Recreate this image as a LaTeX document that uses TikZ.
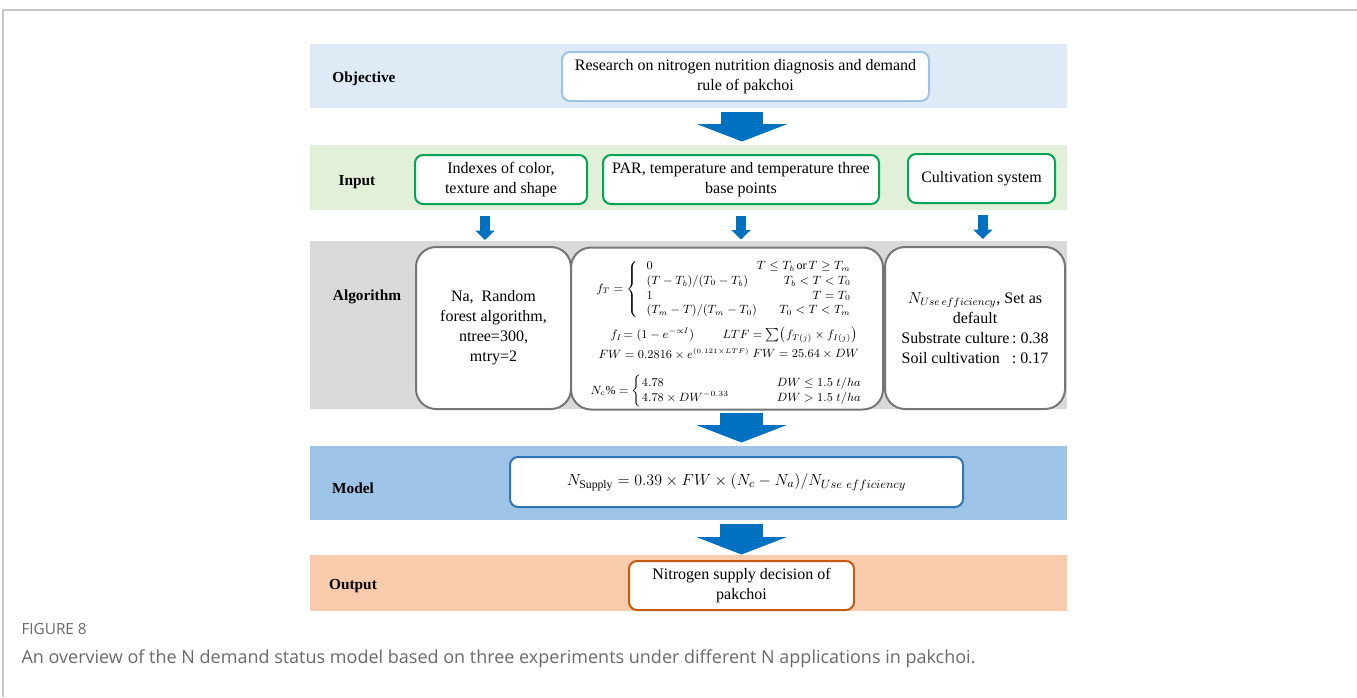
\documentclass[tikz,border=0pt]{standalone}
\usepackage{fontspec}
\setmainfont{Liberation Serif}
\newfontfamily\capfont{Open Sans}
\usetikzlibrary{arrows.meta}

\definecolor{objfill}{RGB}{222,235,247}
\definecolor{objedge}{RGB}{157,195,230}
\definecolor{infill}{RGB}{226,240,217}
\definecolor{inedge}{RGB}{0,166,81}
\definecolor{algfill}{RGB}{217,217,217}
\definecolor{algedge}{RGB}{118,118,118}
\definecolor{modfill}{RGB}{157,195,230}
\definecolor{modedge}{RGB}{46,117,182}
\definecolor{outfill}{RGB}{248,203,173}
\definecolor{outedge}{RGB}{197,90,17}
\definecolor{arrowblue}{RGB}{0,112,192}
\definecolor{framegray}{RGB}{200,200,200}
\definecolor{capgray}{RGB}{105,105,105}

\tikzset{every picture/.style={line width=0.75pt},
  band/.style={draw=none,inner sep=0pt,minimum width=567.75pt},
  rbox/.style={draw,fill=white,line width=1.5pt,rounded corners=6pt,inner sep=0pt,align=center,font=\fontsize{12}{15}\selectfont},
  algbox/.style={rbox,draw=algedge,rounded corners=15pt,minimum height=121.5pt},
  rowlabel/.style={font=\bfseries\fontsize{11.5}{13}\selectfont},
  fml/.style={inner sep=0pt,anchor=west,font=\fontsize{9}{11}\selectfont},
  bigarrow/.style={draw=arrowblue,line width=32pt,-{Triangle[length=13pt,width=67pt]}},
  smallarrow/.style={draw=arrowblue,line width=7.5pt,-{Triangle[length=7pt,width=14pt]}}
}

\begin{document}
\begin{tikzpicture}[x=0.75pt,y=0.75pt,yscale=-1,xscale=1]
	\useasboundingbox (0,0) rectangle (1357,697);

	%Straight Lines 
	\draw [color=framegray,line width=1pt]  (3,697) -- (3,10) -- (1357,10) ;

	%Shape: Rectangle 
	\node [band,fill=objfill,minimum height=48pt] (objband) at (688.5,76) {};
	\node [band,fill=infill,minimum height=48.75pt] (inband) at (688.5,177.5) {};
	\node [band,fill=algfill,minimum height=126pt] (algband) at (688.5,325) {};
	\node [band,fill=modfill,minimum height=55.5pt] (modband) at (688.5,483) {};
	\node [band,fill=outfill,minimum height=42pt] (outband) at (688.5,583) {};

	% Text Node
	\node [rowlabel] (objlab) at (364,79) {Objective};
	\node [rowlabel] (inlab) at (357,182) {Input};
	\node [rowlabel] (alglab) at (367,297) {Algorithm};
	\node [rowlabel] (modlab) at (353,488) {Model};
	\node [rowlabel] (outlab) at (353,586) {Output};

	%Shape: Rounded Rect 
	\node [rbox,draw=objedge,minimum width=275.25pt,minimum height=36.75pt] (objbox) at (745.5,76.5) {Research on nitrogen nutrition diagnosis and demand\\rule of pakchoi};
	\node [rbox,draw=inedge,minimum width=129pt,minimum height=36.75pt] (inbox1) at (501,179.5) {Indexes of color,\\texture and shape};
	\node [rbox,draw=inedge,minimum width=207pt,minimum height=36.75pt] (inbox2) at (741,179.5) {PAR, temperature and temperature three\\base points};
	\node [rbox,draw=inedge,minimum width=110.25pt,minimum height=36.75pt] (inbox3) at (981.5,178.5) {Cultivation system};

	\node [algbox,minimum width=116.25pt] (algbox1) at (493.5,328) {Na,\ \ Random\\forest algorithm,\\ntree=300,\\mtry=2};
	\node [algbox,minimum width=234pt] (algbox2) at (727,328.5) {};
	\node [algbox,minimum width=135pt] (algbox3) at (975,328) {$N_{Use\,efficiency}$, Set as\\default\\Substrate culture\,:\ 0.38\\Soil cultivation\ \ \ :\ 0.17};

	\node [rbox,draw=modedge,minimum width=339.75pt,minimum height=37.5pt,font=\fontsize{12.5}{14}\selectfont] (modbox) at (736.5,482) {$N_{\mathrm{Supply}}=0.39\times FW\times(N_c-N_a)/N_{Use\ efficiency}$};
	\node [rbox,draw=outedge,minimum width=168.75pt,minimum height=36.75pt] (outbox) at (741.5,585.5) {Nitrogen supply decision of\\pakchoi};

	% Text Node
	\node [fml] (ftfun) at (596,289) {$\def\arraystretch{1.0}f_T=\left\{\begin{array}{@{\hspace{6pt}}l@{\hspace{0pt}}r@{}}0 & T\le T_b\,\mathrm{or}\,T\ge T_m\\(T-T_b)/(T_0-T_b) & T_b<T<T_0\\1 & T=T_0\\(T_m-T)/(T_m-T_0) & T_0<T<T_m\end{array}\right.$};
	\node [fml] (fifun) at (610,335) {$f_I\!=(1-e^{-\propto I})$};
	\node [fml] (ltffun) at (722,335) {$LTF=\textstyle\sum\!\big(f_{T(j)}\times f_{I(j)}\big)$};
	\node [fml] (fwfun1) at (598,354) {$FW=0.2816\times e^{\scriptscriptstyle(0.121\times LTF)}$};
	\node [fml] (fwfun2) at (752,354) {$FW=25.64\times DW$};
	\node [fml] (ncfun) at (590,391) {$N_c\%=\left\{\begin{array}{@{}l@{\hspace{36pt}}l@{}}4.78 & DW\le1.5\;t/ha\\4.78\times DW^{-0.33} & DW>1.5\;t/ha\end{array}\right.$};

	%Straight Lines 
	\draw [bigarrow,shorten <=2.25pt,shorten >=2.25pt] ([xshift=-2.6pt]objbox.south |- objband.south) -- ([xshift=-2.6pt]objbox.south |- inband.north) ;
	\draw [smallarrow,shorten <=8.25pt,shorten >=4.5pt] ([xshift=-12pt]inbox1.south) -- ([xshift=-12pt]inbox1.south |- algbox1.north) ;
	\draw [smallarrow,shorten <=8.25pt,shorten >=5.25pt] (inbox2.south) -- (inbox2.south |- algbox2.north) ;
	\draw [smallarrow,shorten <=8.25pt,shorten >=5.25pt] ([xshift=1pt]inbox3.south) -- ([xshift=1pt]inbox3.south |- algbox3.north) ;
	\draw [bigarrow,shorten <=2.25pt,shorten >=2.25pt] (outbox.north |- algband.south) -- (outbox.north |- modband.north) ;
	\draw [bigarrow,shorten <=2.25pt,shorten >=0pt] (outbox.north |- modband.south) -- (outbox.north |- outband.north) ;

	% Text Node
	\node [anchor=west,inner sep=0pt,text=capgray,font=\capfont\fontsize{11.5}{13}\selectfont] (capnum) at (21,629) {FIGURE 8};
	\node [anchor=west,inner sep=0pt,text=capgray,font=\capfont\fontsize{13.5}{15}\selectfont] (captext) at (21,659) {An overview of the N demand status model based on three experiments under different N applications in pakchoi.};

\end{tikzpicture}
\end{document}
